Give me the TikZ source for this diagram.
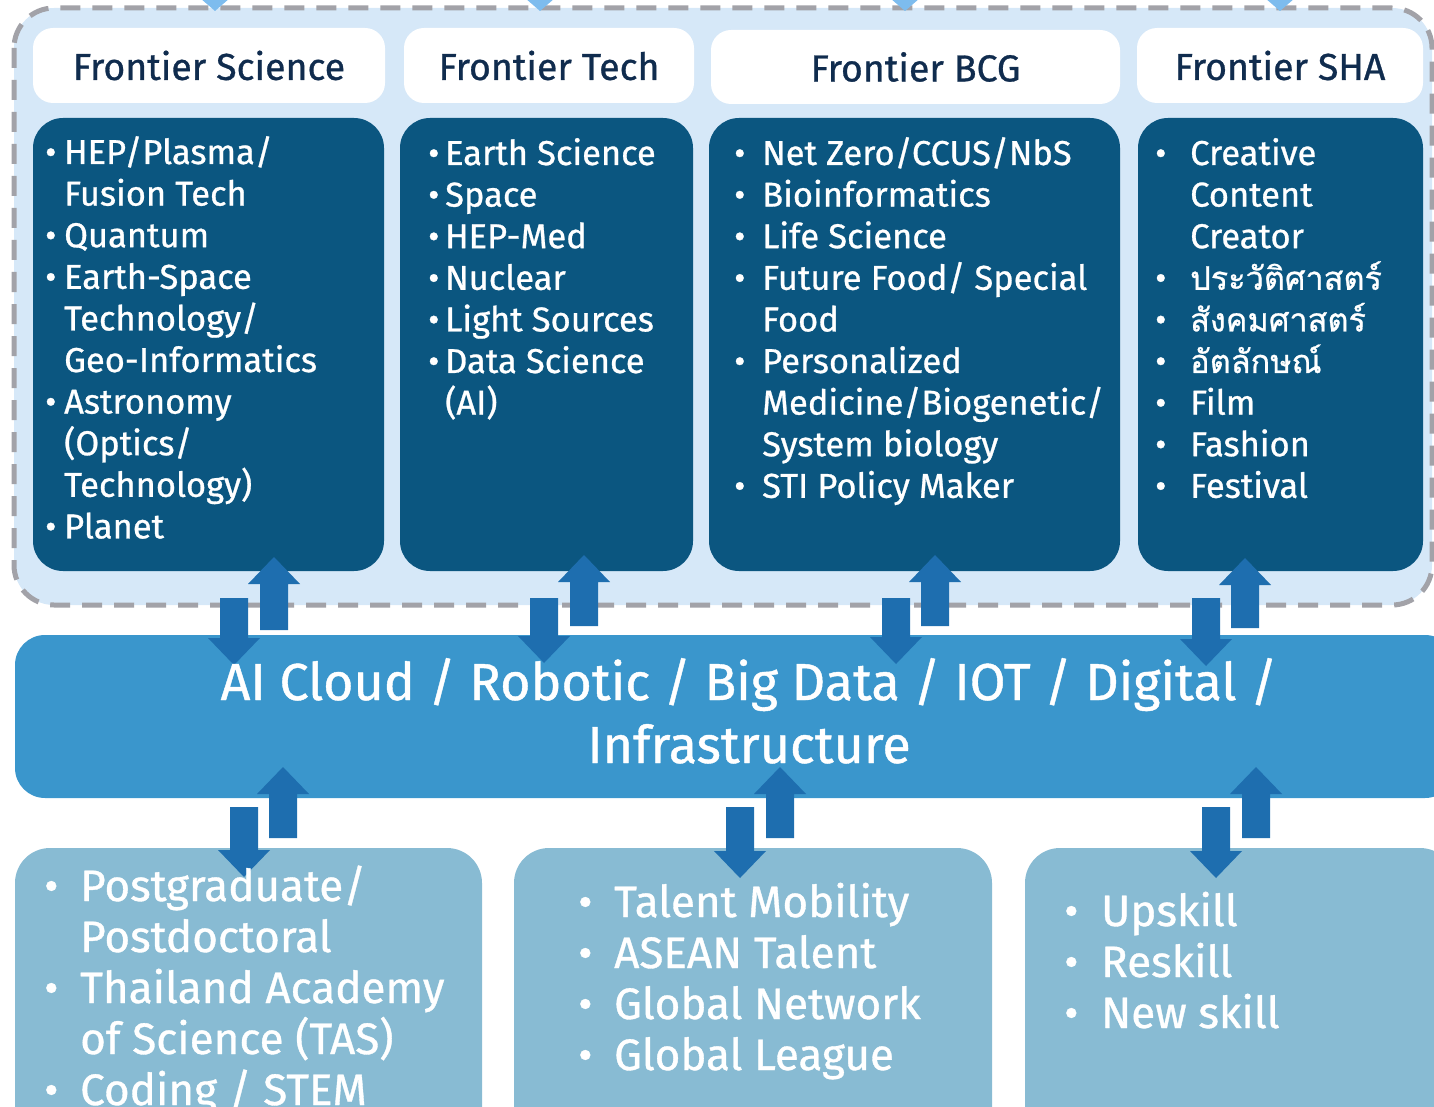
\documentclass[tikz,border=0pt]{standalone}
\usepackage{fontspec}
\setmainfont{Fira Sans}[FakeBold=0.8]
\newfontfamily\thaifont[Script=Thai,Scale=0.94,FakeBold=0.8]{Loma}
\definecolor{outerfill}{RGB}{214,232,248}
\definecolor{dashgray}{RGB}{162,162,168}
\definecolor{navy}{RGB}{16,44,78}
\definecolor{darkblue}{RGB}{11,86,128}
\definecolor{bandblue}{RGB}{58,150,204}
\definecolor{arrowc}{RGB}{30,110,175}
\definecolor{lowbox}{RGB}{136,187,211}
\definecolor{tipblue}{RGB}{125,188,238}
\newcommand\bul[1]{\makebox[#1][l]{•}}
\newcommand\arrUp[3]{\fill[arrowc] (#1-14,#3) -- (#1-14,#2+27) -- (#1-26,#2+27) -- (#1,#2) -- (#1+26,#2+27) -- (#1+14,#2+27) -- (#1+14,#3) -- cycle;}
\newcommand\arrDn[3]{\fill[arrowc] (#1-14,#2) -- (#1+14,#2) -- (#1+14,#3-27) -- (#1+26,#3-27) -- (#1,#3) -- (#1-26,#3-27) -- (#1-14,#3-27) -- cycle;}
\begin{document}
\begin{tikzpicture}[x=1pt,y=-1pt,
  outerbox/.style={fill=outerfill, draw=dashgray, line width=5pt, dash pattern=on 20pt off 12pt, rounded corners=40pt},
  headbox/.style={fill=white, rounded corners=20pt, inner sep=0, text=navy, font=\fontsize{37.5}{40}\selectfont},
  darkbox/.style={fill=darkblue, rounded corners=30pt, inner sep=0},
  bandbox/.style={fill=bandblue, rounded corners=30pt, inner sep=0},
  lowerbox/.style={fill=lowbox, rounded corners=35pt, inner sep=0},
  tiptri/.style={fill=tipblue},
  toptext/.style={anchor=base west, inner sep=0, text=white, font=\fontsize{34.5}{41.6}\selectfont},
  lowtext/.style={anchor=base west, inner sep=0, text=white, font=\fontsize{44}{51}\selectfont},
  bandtext/.style={anchor=base, inner sep=0, text=white, font=\fontsize{52}{63}\selectfont}]
\useasboundingbox (0,0) rectangle (1434,1107);
\clip (0,0) rectangle (1434,1107);
% outer dashed area
\draw[outerbox] (14,8) rectangle (1432,605);
\foreach \tx in {215,540,905,1280} \fill[tiptri] (\tx-15,-2) -- (\tx+15,-2) -- (\tx,11) -- cycle;
% headers
\node[headbox, minimum width=352pt, minimum height=75pt] (h1) at (209,65.5) {Frontier Science};
\node[headbox, minimum width=290pt, minimum height=75pt] (h2) at (549,65.5) {Frontier Tech};
\node[headbox, minimum width=409pt, minimum height=74pt] (h3) at (915.5,67) {Frontier BCG};
\node[headbox, minimum width=286pt, minimum height=75pt] (h4) at (1280,65.5) {Frontier SHA};
% dark boxes
\node[darkbox, minimum width=351pt, minimum height=453pt] (d1) at (208.5,344.5) {};
\node[darkbox, minimum width=293pt, minimum height=453pt] (d2) at (546.5,344.5) {};
\node[darkbox, minimum width=411pt, minimum height=453pt] (d3) at (914.5,344.5) {};
\node[darkbox, minimum width=285pt, minimum height=453pt] (d4) at (1280.5,344.5) {};
% band
\node[bandbox, minimum width=1440pt, minimum height=163pt] (band) at (735,716.5) {};
% lower boxes
\node[lowerbox, minimum width=467pt, minimum height=300pt] (l1) at (248.5,998) {};
\node[lowerbox, minimum width=478pt, minimum height=300pt] (l2) at (753,998) {};
\node[lowerbox, minimum width=430pt, minimum height=300pt] (l3) at (1240,998) {};
% arrows
\arrDn{234}{598}{665} \arrUp{274}{557}{630}
\arrDn{544}{598}{663} \arrUp{584}{555}{626}
\arrDn{896}{598}{664} \arrUp{935}{555}{626}
\arrDn{1206}{598}{666} \arrUp{1245}{558}{628}
\arrDn{244}{807}{877} \arrUp{283}{767}{838}
\arrDn{740}{807}{878} \arrUp{780}{767}{838}
\arrDn{1216}{807}{878} \arrUp{1256}{767}{838}
% texts in dark boxes
\node[toptext] (t1) at (45,164) {\parbox[t]{335pt}{\bul{19pt}HEP/Plasma/\\\hspace*{19pt}Fusion Tech\\\bul{19pt}Quantum\\\bul{19pt}Earth-Space\\\hspace*{19pt}Technology/\\\hspace*{19pt}Geo-Informatics\\\bul{19pt}Astronomy\\\hspace*{19pt}(Optics/\\\hspace*{19pt}Technology)\\\bul{19pt}Planet}};
\node[toptext] (t2) at (428,165) {\parbox[t]{260pt}{\bul{17pt}Earth Science\\\bul{17pt}Space\\\bul{17pt}HEP-Med\\\bul{17pt}Nuclear\\\bul{17pt}Light Sources\\\bul{17pt}Data Science\\\hspace*{17pt}(AI)}};
\node[toptext] (t3) at (734,165) {\parbox[t]{380pt}{\bul{28pt}Net Zero/CCUS/NbS\\\bul{28pt}Bioinformatics\\\bul{28pt}Life Science\\\bul{28pt}Future Food/ Special\\\hspace*{28pt}Food\\\bul{28pt}Personalized\\\hspace*{28pt}Medicine/Biogenetic/\\\hspace*{28pt}System biology\\\bul{28pt}STI Policy Maker}};
\node[toptext] (t4) at (1155,165) {\parbox[t]{265pt}{\bul{35pt}Creative\\\hspace*{35pt}Content\\\hspace*{35pt}Creator\\\bul{35pt}{\thaifont ประวัติศาสตร์}\\\bul{35pt}{\thaifont สังคมศาสตร์}\\\bul{35pt}{\thaifont อัตลักษณ์}\\\bul{35pt}Film\\\bul{35pt}Fashion\\\bul{35pt}Festival}};
% band text
\node[bandtext] (bt) at (749,700) {\parbox[t]{1380pt}{\centering AI Cloud / Robotic / Big Data / IOT / Digital /\\Infrastructure}};
% lower texts
\node[lowtext] (u1) at (44,901) {\parbox[t]{440pt}{\bul{36pt}Postgraduate/\\\hspace*{36pt}Postdoctoral\\\bul{36pt}Thailand Academy\\\hspace*{36pt}of Science (TAS)\\\bul{36pt}Coding / STEM}};
\node[lowtext] (u2) at (578,917) {\parbox[t]{410pt}{\bul{36pt}Talent Mobility\\\bul{36pt}ASEAN Talent\\\bul{36pt}Global Network\\\bul{36pt}Global League}};
\node[lowtext] (u3) at (1064,926) {\parbox[t]{360pt}{\bul{37pt}Upskill\\\bul{37pt}Reskill\\\bul{37pt}New skill}};
\end{tikzpicture}
\end{document}
